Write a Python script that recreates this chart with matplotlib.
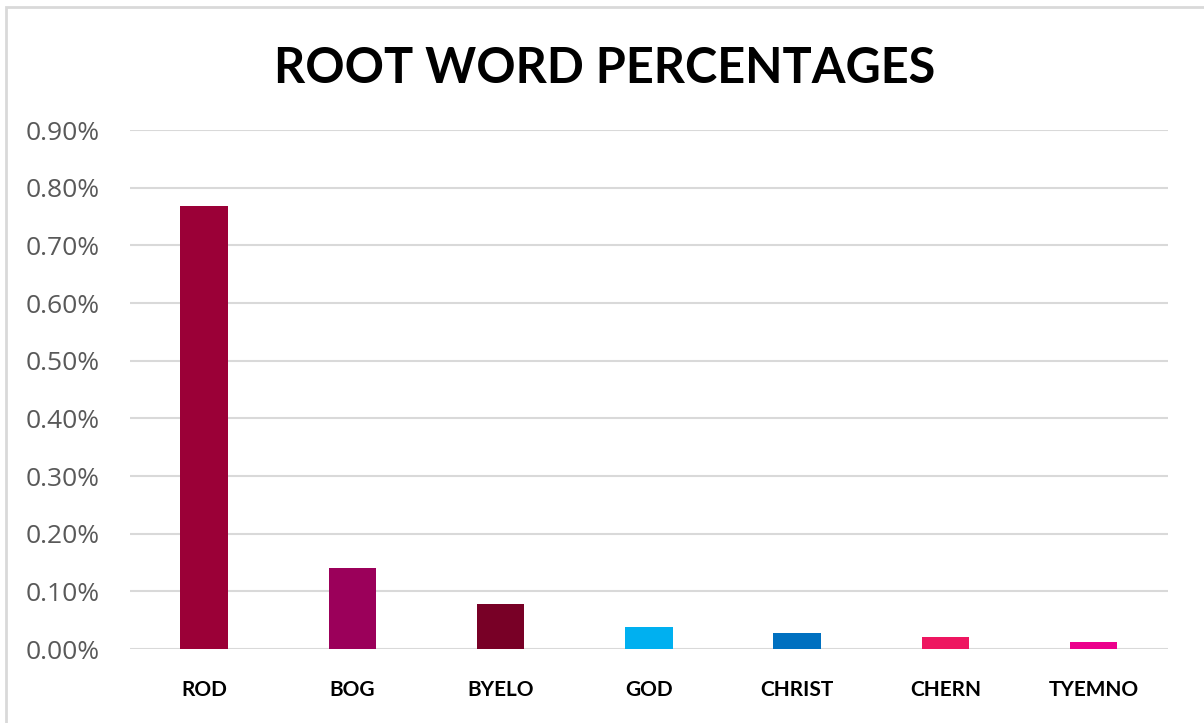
import matplotlib.pyplot as plt
from matplotlib.patches import Rectangle

# root words and their share (percent)
roots = ["ROD", "BOG", "BYELO", "GOD", "CHRIST", "CHERN", "TYEMNO"]
percents = [0.768, 0.141, 0.0775, 0.038, 0.028, 0.021, 0.012]
colors = ["#9B0037", "#9B005A", "#780026", "#00B0F0", "#0070C0", "#EE1660", "#EC008C"]
yticks = [0.0, 0.1, 0.2, 0.3, 0.4, 0.5, 0.6, 0.7, 0.8, 0.9]

fig = plt.figure(figsize=(12.04, 7.23), dpi=100)
ax = fig.add_axes([0.108, 0.1023, 0.862, 0.7178])

x = range(len(roots))
ax.bar(x, percents, width=0.32, color=colors, zorder=3)

ax.set_xlim(-0.5, len(roots) - 0.5)
ax.set_ylim(0, 0.9)
ax.set_yticks(yticks)
ax.set_yticklabels([f"{v:.2f}%" for v in yticks], fontsize=19, color="#595959",
                   family="Open Sans")
ax.set_xticks(list(x))
ax.set_xticklabels(roots, fontsize=15, family="Lato", fontweight="bold")
ax.tick_params(axis="both", length=0)
ax.tick_params(axis="y", pad=22)
ax.tick_params(axis="x", pad=22)
ax.grid(axis="y", color="#D9D9D9", linewidth=1.5, zorder=0)
for s in ax.spines.values():
    s.set_visible(False)

fig.text(0.5025, 0.905, "ROOT WORD PERCENTAGES", ha="center", va="center",
         fontsize=35, family="Lato", fontweight="bold")

# outer chart border
fig.patches.append(Rectangle((6 / 1204, -0.01), 1.1, 1 - 7 / 723 + 0.01,
                             transform=fig.transFigure, fill=False,
                             edgecolor="#D9D9D9", linewidth=2))

fig.savefig("out.png", dpi=100)
